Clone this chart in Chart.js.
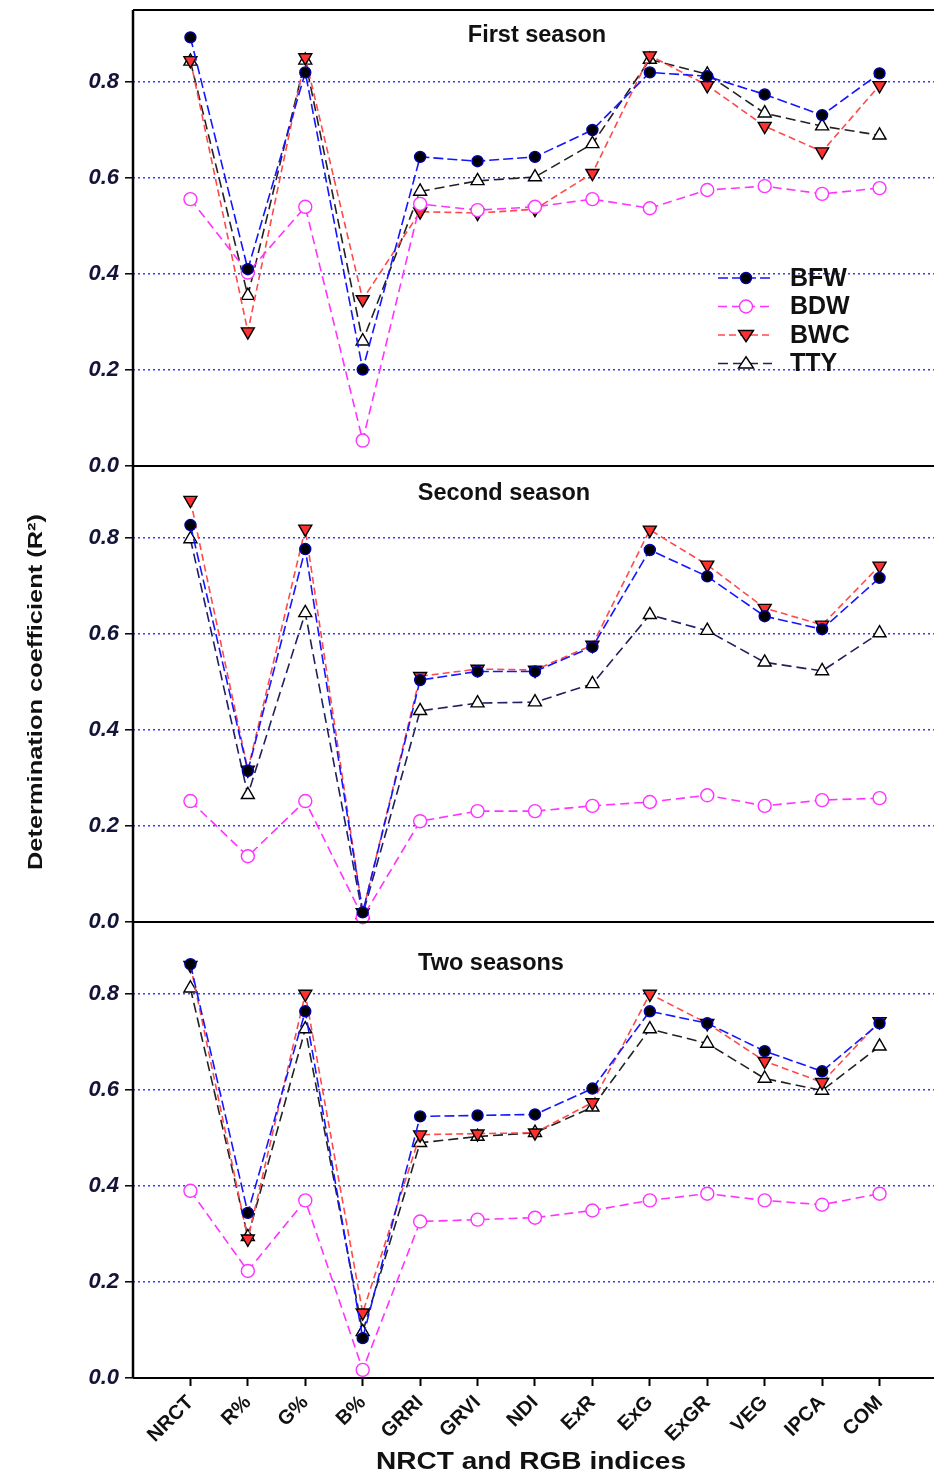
<!DOCTYPE html>
<html>
<head>
<meta charset="utf-8">
<script src="https://cdn.jsdelivr.net/npm/chart.js@4.4.1/dist/chart.umd.min.js"></script>
<style>
  html, body { margin: 0; padding: 0; background: #fff; overflow: hidden; width: 934px; height: 1476px; }
  canvas { display: block; }
</style>
</head>
<body>
<canvas id="chart" width="943" height="1476" style="width:943px;height:1476px"></canvas>
<script>
// categories and ticks
const indices = ['NRCT', 'R%', 'G%', 'B%', 'GRRI', 'GRVI', 'NDI', 'ExR', 'ExG', 'ExGR', 'VEG', 'IPCA', 'COM'];
const yTicks = [0, 0.2, 0.4, 0.6, 0.8];
const panelTitles = ['First season', 'Second season', 'Two seasons'];
const seriesNames = ['BFW', 'BDW', 'BWC', 'TTY'];

// first season
const bfw1 = [0.893, 0.41, 0.82, 0.201, 0.644, 0.635, 0.644, 0.70, 0.82, 0.812, 0.774, 0.731, 0.818];
const bdw1 = [0.556, 0.403, 0.54, 0.053, 0.546, 0.533, 0.54, 0.556, 0.537, 0.575, 0.583, 0.567, 0.579];
const bwc1 = [0.845, 0.28, 0.851, 0.347, 0.53, 0.527, 0.535, 0.61, 0.855, 0.793, 0.708, 0.655, 0.793];
const tty1 = [0.843, 0.355, 0.845, 0.26, 0.572, 0.594, 0.602, 0.671, 0.847, 0.816, 0.735, 0.708, 0.689];

// second season
const bfw2 = [0.827, 0.315, 0.777, 0.02, 0.504, 0.522, 0.522, 0.573, 0.775, 0.72, 0.637, 0.61, 0.717];
const bdw2 = [0.252, 0.137, 0.252, 0.01, 0.21, 0.231, 0.231, 0.242, 0.25, 0.264, 0.242, 0.254, 0.258];
const bwc2 = [0.879, 0.317, 0.819, 0.02, 0.512, 0.527, 0.525, 0.577, 0.817, 0.744, 0.654, 0.619, 0.742];
const tty2 = [0.798, 0.265, 0.644, 0.015, 0.44, 0.456, 0.458, 0.496, 0.64, 0.607, 0.541, 0.523, 0.602];

// two seasons
const bfw3 = [0.862, 0.344, 0.764, 0.083, 0.545, 0.547, 0.549, 0.603, 0.764, 0.739, 0.681, 0.639, 0.739];
const bdw3 = [0.39, 0.223, 0.37, 0.017, 0.326, 0.33, 0.334, 0.349, 0.37, 0.384, 0.37, 0.361, 0.384];
const bwc3 = [0.86, 0.29, 0.80, 0.136, 0.507, 0.509, 0.511, 0.574, 0.80, 0.739, 0.66, 0.616, 0.743];
const tty3 = [0.812, 0.294, 0.727, 0.096, 0.49, 0.503, 0.511, 0.564, 0.727, 0.697, 0.624, 0.599, 0.691];

const FONT = '"Liberation Sans", Arial, sans-serif';
const BLUE = '#1515ff', MAGENTA = '#ff33ff', RED = '#ff4a4a', NAVY = '#202060';

const styles = {
  BFW: { line: BLUE, dash: [10, 4], pointStyle: 'circle', radius: 5.5, fill: '#000', edge: '#0000aa', rot: 0 },
  BDW: { line: MAGENTA, dash: [9, 5], pointStyle: 'circle', radius: 6.5, fill: '#fff', edge: MAGENTA, rot: 0 },
  BWC: { line: RED, dash: [7, 4], pointStyle: 'triangle', radius: 7.5, fill: '#ff3030', edge: '#000', rot: 180 },
  TTY: { line: '#222', dash: [10, 5], pointStyle: 'triangle', radius: 7.5, fill: '#fff', edge: '#000', rot: 0 }
};

function series(name, values, axis, lineColor) {
  const s = styles[name];
  return {
    label: name,
    data: values.map((v, i) => ({ x: i, y: v })),
    yAxisID: axis,
    borderColor: lineColor || s.line,
    borderWidth: 1.6,
    borderDash: s.dash,
    pointStyle: s.pointStyle,
    pointRadius: s.radius,
    pointRotation: s.rot,
    pointBackgroundColor: s.fill,
    pointBorderColor: s.edge,
    pointBorderWidth: 1.4,
    tension: 0,
    fill: false,
    clip: 20
  };
}

function yScale() {
  return {
    type: 'linear',
    position: 'left',
    stack: 'panels',
    stackWeight: 1,
    min: 0,
    max: 0.95,
    afterBuildTicks: s => { s.ticks = yTicks.map(v => ({ value: v })); },
    grid: {
      color: c => (c.tick && c.tick.value === 0) ? 'rgba(0,0,0,0)' : '#3838ff',
      lineWidth: 1.6,
      tickColor: '#000',
      tickLength: 8,
      tickWidth: 1.5,
      tickBorderDash: []
    },
    border: { display: false, dash: [2, 3] },
    ticks: {
      callback: v => v.toFixed(1),
      font: { family: FONT, size: 22, weight: 'bold', style: 'italic' },
      color: '#14143a',
      padding: 6
    },
    afterFit: s => { s.width = 133; s.paddingTop = 0; s.paddingBottom = 0; }
  };
}

function drawMarker(ctx, s, x, y) {
  const r = s.radius;
  if (s.pointStyle === 'circle') {
    ctx.arc(x, y, r, 0, Math.PI * 2);
  } else {
    const dir = s.rot === 180 ? -1 : 1;
    const h = r * 1.5;
    ctx.moveTo(x, y - dir * h * 0.6);
    ctx.lineTo(x + r, y + dir * h * 0.4);
    ctx.lineTo(x - r, y + dir * h * 0.4);
    ctx.closePath();
  }
}

const decorations = {
  id: 'decorations',
  afterDraw(chart) {
    const { ctx, chartArea } = chart;
    const panels = ['yA', 'yB', 'yC'].map(id => chart.scales[id]);
    ctx.save();
    // panel frames
    ctx.strokeStyle = '#000';
    ctx.lineWidth = 2;
    ctx.setLineDash([]);
    panels.forEach(sc => {
      ctx.beginPath();
      ctx.moveTo(chartArea.left, sc.top);
      ctx.lineTo(chartArea.right, sc.top);
      ctx.moveTo(chartArea.left, sc.bottom);
      ctx.lineTo(chartArea.right, sc.bottom);
      ctx.stroke();
    });
    ctx.lineWidth = 2.5;
    ctx.beginPath();
    ctx.moveTo(chartArea.left, chartArea.top);
    ctx.lineTo(chartArea.left, chartArea.bottom);
    ctx.stroke();

    // panel titles
    ctx.fillStyle = '#111';
    ctx.font = 'bold 23.5px ' + FONT;
    ctx.textAlign = 'center';
    ctx.textBaseline = 'middle';
    const titlePos = [[537, 26], [504, 28], [491, 42]];
    panels.forEach((sc, i) => {
      ctx.fillText(panelTitles[i], titlePos[i][0], sc.top + titlePos[i][1]);
    });

    // legend (first panel)
    const top = panels[0].top;
    const legendColors = { BFW: BLUE, BDW: MAGENTA, BWC: RED, TTY: NAVY };
    seriesNames.forEach((name, i) => {
      const s = styles[name];
      const y = top + 268 + i * 28.5;
      ctx.strokeStyle = legendColors[name];
      ctx.lineWidth = 1.6;
      ctx.setLineDash(s.dash);
      ctx.beginPath();
      ctx.moveTo(718, y);
      ctx.lineTo(772, y);
      ctx.stroke();
      ctx.setLineDash([]);
      ctx.fillStyle = s.fill;
      ctx.strokeStyle = s.edge;
      ctx.lineWidth = 1.4;
      ctx.beginPath();
      drawMarker(ctx, s, 746, y);
      ctx.fill();
      ctx.stroke();
      ctx.fillStyle = '#111';
      ctx.font = 'bold 25px ' + FONT;
      ctx.textAlign = 'left';
      ctx.fillText(name, 790, y + 1);
    });

    // y axis title
    ctx.save();
    ctx.translate(36, 692);
    ctx.rotate(-Math.PI / 2);
    ctx.font = 'bold 21px "Liberation Sans Narrow", ' + FONT;
    const yTitle = 'Determination coefficient (R²)';
    const w = ctx.measureText(yTitle).width;
    ctx.scale(356 / w, 1);
    ctx.textAlign = 'center';
    ctx.fillStyle = '#111';
    ctx.fillText(yTitle, 0, 0);
    ctx.restore();

    // x axis title
    ctx.save();
    ctx.font = 'bold 23px ' + FONT;
    const xTitle = 'NRCT and RGB indices';
    const xw = ctx.measureText(xTitle).width;
    ctx.translate(531, 1463);
    ctx.scale(310 / xw, 1);
    ctx.textAlign = 'center';
    ctx.fillStyle = '#111';
    ctx.fillText(xTitle, 0, 0);
    ctx.restore();
    ctx.restore();
  }
};

const ctx = document.getElementById('chart').getContext('2d');
new Chart(ctx, {
  type: 'line',
  data: {
    datasets: [
      series('BFW', bfw1, 'yA'), series('BDW', bdw1, 'yA'), series('BWC', bwc1, 'yA'), series('TTY', tty1, 'yA'),
      series('BFW', bfw2, 'yB'), series('BDW', bdw2, 'yB'), series('BWC', bwc2, 'yB'), series('TTY', tty2, 'yB', NAVY),
      series('BFW', bfw3, 'yC'), series('BDW', bdw3, 'yC'), series('BWC', bwc3, 'yC'), series('TTY', tty3, 'yC')
    ]
  },
  options: {
    responsive: false,
    animation: false,
    layout: { padding: { top: 10, right: 0, left: 0, bottom: 0 } },
    plugins: { legend: { display: false }, tooltip: { enabled: false } },
    scales: {
      x: {
        type: 'linear',
        min: -1,
        max: 12.95,
        afterBuildTicks: s => { s.ticks = indices.map((_, i) => ({ value: i })); },
        grid: { drawOnChartArea: false, drawTicks: true, tickLength: 8, tickColor: '#000', tickWidth: 2 },
        border: { display: false },
        ticks: {
          autoSkip: false,
          minRotation: 45,
          maxRotation: 45,
          callback: v => indices[v],
          font: { family: FONT, size: 20, weight: 'bold' },
          color: '#111',
          padding: 5
        },
        afterFit: s => { s.height = 98; s.paddingLeft = 0; s.paddingRight = 0; }
      },
      yC: yScale(),
      yB: yScale(),
      yA: yScale()
    }
  },
  plugins: [decorations]
});
</script>
</body>
</html>
